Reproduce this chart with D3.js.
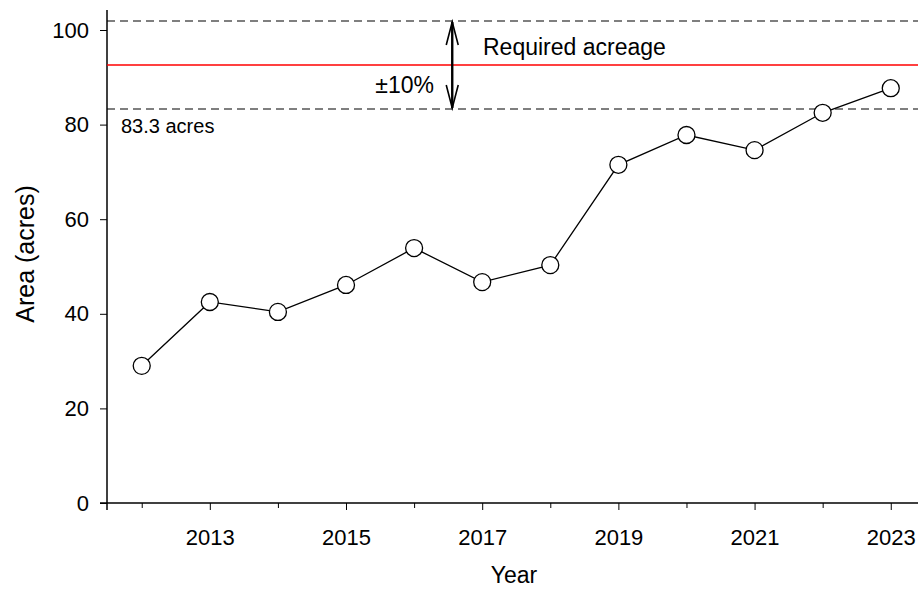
<!DOCTYPE html>
<html><head><meta charset="utf-8">
<script src="https://cdn.jsdelivr.net/npm/d3@7"></script>
<style>body{margin:0;background:#fff}text{font-family:Arial,"Liberation Sans",sans-serif}</style>
</head><body><svg id="c" width="920" height="590"></svg>
<script>
const years = [2012,2013,2014,2015,2016,2017,2018,2019,2020,2021,2022,2023]
const area = [29.0,42.5,40.4,46.1,53.9,46.7,50.3,71.5,77.8,74.6,82.5,87.7]
const required = 92.6
const lower = 83.3, upper = 101.9
const yTicks = [0,20,40,60,80,100]
const xMajor = [2013,2015,2017,2019,2021,2023]

const svg = d3.select('#c')
const x = d3.scaleLinear().domain([2011.49, 2023.4]).range([107, 918])
const y = d3.scaleLinear().domain([0, 100]).range([503, 30])

// axes
svg.append('g').attr('transform', 'translate(0,503)')
  .call(d3.axisBottom(x).tickValues(d3.range(2012, 2024)).tickSize(7).tickFormat(d => xMajor.includes(d) ? d : ''))
  .call(g => g.selectAll('.tick line').attr('y2', d => xMajor.includes(d) ? 7 : 5))
  .call(g => g.select('.domain').attr('d', 'M100,0H918'))
  .call(g => g.selectAll('text').style('font-size', '22px').attr('y', 26).attr('fill', '#000'))
svg.append('g').attr('transform', 'translate(107,0)')
  .call(d3.axisLeft(y).tickValues(yTicks).tickSize(7))
  .call(g => g.select('.domain').attr('d', 'M0,510V10'))
  .call(g => g.selectAll('text').style('font-size', '22px').attr('x', -18).attr('fill', '#000'))
svg.selectAll('.domain').attr('stroke-width', 1.5)

svg.append('text').attr('x', 514).attr('y', 583).attr('text-anchor', 'middle').style('font-size', '23px').text('Year')
svg.append('text').attr('transform', 'translate(34,254) rotate(-90)').attr('text-anchor', 'middle').style('font-size', '25px').text('Area (acres)')

// reference lines
;[lower, upper].forEach(v => svg.append('line').attr('x1', 107).attr('x2', 918).attr('y1', y(v)).attr('y2', y(v))
  .attr('stroke', '#000').attr('stroke-dasharray', '8,5').attr('stroke-width', 1.2))
svg.append('line').attr('x1', 107).attr('x2', 918).attr('y1', y(required)).attr('y2', y(required)).attr('stroke', '#ff0000').attr('stroke-width', 1.4)

// arrow
const ax = x(2016.56)
svg.append('line').attr('x1', ax).attr('x2', ax).attr('y1', y(upper) + 1).attr('y2', y(lower) - 1).attr('stroke', '#000').attr('stroke-width', 2.4)
svg.append('path').attr('d', `M${ax-6},${y(upper)+24}L${ax},${y(upper)+1}L${ax+6},${y(upper)+24}`).attr('fill', 'none').attr('stroke', '#000').attr('stroke-width', 1.6)
svg.append('path').attr('d', `M${ax-6},${y(lower)-24}L${ax},${y(lower)-1}L${ax+6},${y(lower)-24}`).attr('fill', 'none').attr('stroke', '#000').attr('stroke-width', 1.6)

svg.append('text').attr('x', 483).attr('y', 55).style('font-size', '23px').text('Required acreage')
svg.append('text').attr('x', 434).attr('y', 93).attr('text-anchor', 'end').style('font-size', '23px').text('±10%')
svg.append('text').attr('x', 121).attr('y', 133).style('font-size', '20px').text(lower + ' acres')

// series
svg.append('path').datum(years.map((d, i) => [d, area[i]]))
  .attr('d', d3.line().x(d => x(d[0])).y(d => y(d[1]))).attr('fill', 'none').attr('stroke', '#000').attr('stroke-width', 1.3)
svg.selectAll('circle').data(years).join('circle')
  .attr('cx', d => x(d)).attr('cy', (d, i) => y(area[i])).attr('r', 8.5)
  .attr('fill', '#fff').attr('stroke', '#000').attr('stroke-width', 1.3)
</script></body></html>
